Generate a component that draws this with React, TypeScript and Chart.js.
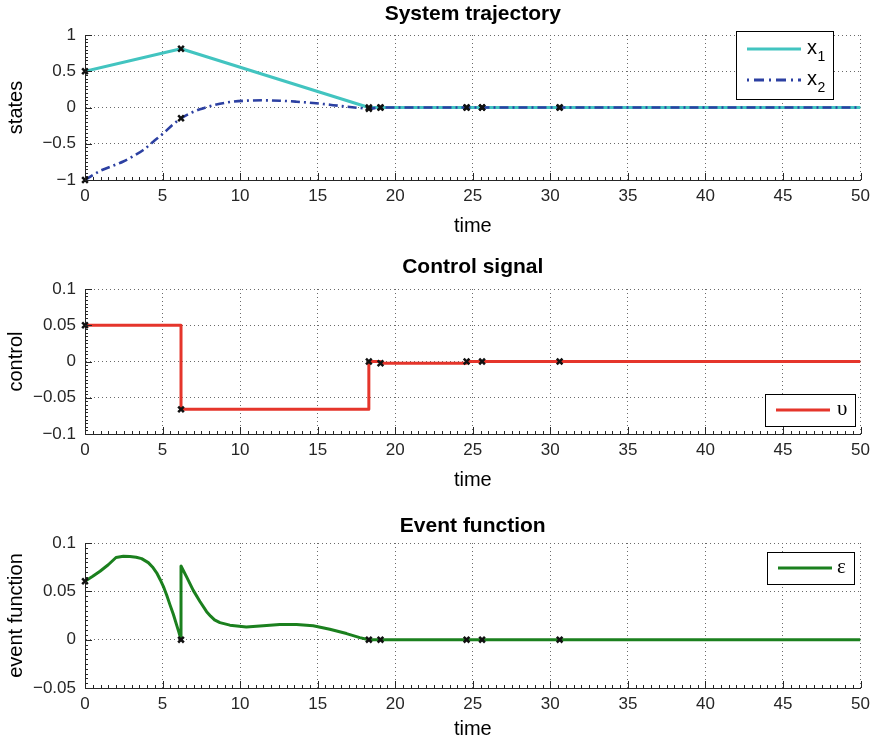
import React, { useEffect, useRef } from 'react';
import { Chart, registerables } from 'chart.js';

Chart.register(...registerables);

// ---------- data ----------
const TIME_TICKS = [0, 5, 10, 15, 20, 25, 30, 35, 40, 45, 50];
const STATE_TICKS = [-1, -0.5, 0, 0.5, 1];
const CONTROL_TICKS = [-0.1, -0.05, 0, 0.05, 0.1];
const EVENT_TICKS = [-0.05, 0, 0.05, 0.1];

const EVENT_TIMES = [0, 6.19, 18.3, 19.05, 24.6, 25.6, 30.6];
const X1_AT_EVENTS = [0.5, 0.81, 0, 0, 0, 0, 0];
const X2_AT_EVENTS = [-1, -0.149, -0.017, 0, 0, 0, 0];
const U_AT_EVENTS = [0.05, -0.066, 0, -0.0024, 0, 0, 0];
const EPS_AT_EVENTS = [0.0604, 0, 0, 0, 0, 0, 0];

const X1_T = [0, 6.19, 18.3, 50];
const X1_V = [0.5, 0.81, 0, 0];

const X2_T = [0, 0.97, 1.83, 2.47, 3.11, 3.76, 4.4, 5.05, 5.69, 6.19, 6.77, 7.41, 8.27, 9.34, 10.4, 11.49, 12.56, 13.64, 14.71, 15.78, 16.86, 17.72, 18.3, 19.05, 50];
const X2_V = [-1, -0.875, -0.8, -0.745, -0.672, -0.586, -0.471, -0.356, -0.232, -0.149, -0.08, -0.025, 0.03, 0.076, 0.094, 0.099, 0.094, 0.08, 0.062, 0.039, 0.011, -0.007, -0.017, 0, 0];

const U_T = [0, 6.19, 18.3, 19.05, 24.6, 50];
const U_V = [0.05, -0.066, 0, -0.0024, 0, 0];

const EPS_T = [0, 0.5, 0.97, 1.5, 2.0, 2.47, 2.9, 3.3, 3.65, 4.08, 4.35, 4.62, 4.85, 5.05, 5.27, 5.48, 5.7, 5.91, 6.05, 6.19, 6.19, 6.55, 6.98, 7.41, 7.84, 8.1, 8.35, 8.7, 9.34, 10.4, 11.49, 12.56, 13.64, 14.71, 15.78, 16.86, 17.72, 18.3, 50];
const EPS_V = [0.0604, 0.0655, 0.0708, 0.0775, 0.085, 0.0862, 0.086, 0.0853, 0.0838, 0.0797, 0.0752, 0.0692, 0.062, 0.0552, 0.046, 0.036, 0.026, 0.015, 0.0078, 0, 0.0762, 0.065, 0.051, 0.0395, 0.029, 0.0243, 0.0205, 0.0176, 0.015, 0.0132, 0.0143, 0.0157, 0.0157, 0.0143, 0.0108, 0.0063, 0.0021, 0, 0];

// ---------- styling ----------
const FONT = "'Liberation Sans', Arial, Helvetica, sans-serif";
const SERIF = "'Liberation Serif', 'DejaVu Serif', serif";
const C_X1 = '#42C4C0';
const C_X2 = '#2C40A2';
const C_U = '#E5352B';
const C_EPS = '#1B801E';
const AXIS = '#262626';

const pts = (t: number[], v: number[]) => t.map((x, i) => ({ x, y: v[i] }));
const fmt = (v: number) => (v < 0 ? '\u2212' + String(Math.abs(v)) : String(v));

const markerSet = (values: number[]) => ({
  label: 'events',
  data: pts(EVENT_TIMES, values),
  showLine: false,
  clip: false,
  pointStyle: 'crossRot',
  pointRadius: 4,
  pointBorderWidth: 2.5,
  pointBorderColor: '#111',
  pointBackgroundColor: '#111',
  order: 0,
});

const ticksPlugin = (yTicks: number[]) => ({
  id: 'inwardTicks',
  afterDatasetsDraw(chart: any) {
    const { ctx, chartArea } = chart;
    const xs = chart.scales.x;
    const ys = chart.scales.y;
    const { left, bottom } = chartArea;
    ctx.save();
    ctx.strokeStyle = AXIS;
    ctx.lineWidth = 1;
    ctx.beginPath();
    const xStep = TIME_TICKS[1] - TIME_TICKS[0];
    for (let i = 0; i < TIME_TICKS.length; i++) {
      const px = Math.round(xs.getPixelForValue(TIME_TICKS[i])) + 0.5;
      ctx.moveTo(px, bottom);
      ctx.lineTo(px, bottom - 7);
      if (i < TIME_TICKS.length - 1) {
        for (let k = 1; k < 10; k++) {
          const mx = Math.round(xs.getPixelForValue(TIME_TICKS[i] + (xStep * k) / 10)) + 0.5;
          ctx.moveTo(mx, bottom);
          ctx.lineTo(mx, bottom - 3);
        }
      }
    }
    const yStep = yTicks[1] - yTicks[0];
    for (let i = 0; i < yTicks.length; i++) {
      const py = Math.round(ys.getPixelForValue(yTicks[i])) + 0.5;
      ctx.moveTo(left, py);
      ctx.lineTo(left + 7, py);
      if (i < yTicks.length - 1) {
        for (let k = 1; k < 10; k++) {
          const my = Math.round(ys.getPixelForValue(yTicks[i] + (yStep * k) / 10)) + 0.5;
          ctx.moveTo(left, my);
          ctx.lineTo(left + 3, my);
        }
      }
    }
    ctx.stroke();
    ctx.restore();
  },
});

type LegendEntry = { text: string; sub?: string; serif?: boolean; color: string; dash: number[]; y: number };
type LegendCfg = { x: number; y: number; w: number; h: number; lx0: number; lx1: number; tx: number; entries: LegendEntry[] };

const legendPlugin = (cfg: LegendCfg) => ({
  id: 'boxLegend',
  afterDraw(chart: any) {
    const ctx = chart.ctx;
    ctx.save();
    ctx.fillStyle = '#fff';
    ctx.fillRect(cfg.x, cfg.y, cfg.w, cfg.h);
    ctx.strokeStyle = '#000';
    ctx.lineWidth = 1;
    ctx.setLineDash([]);
    ctx.strokeRect(cfg.x + 0.5, cfg.y + 0.5, cfg.w, cfg.h);
    for (const e of cfg.entries) {
      ctx.strokeStyle = e.color;
      ctx.lineWidth = 3;
      ctx.setLineDash(e.dash);
      ctx.beginPath();
      ctx.moveTo(cfg.lx0, e.y);
      ctx.lineTo(cfg.lx1, e.y);
      ctx.stroke();
      ctx.setLineDash([]);
      ctx.fillStyle = '#000';
      ctx.textBaseline = 'middle';
      ctx.textAlign = 'left';
      ctx.font = e.serif ? `21px ${SERIF}` : `20px ${FONT}`;
      ctx.fillText(e.text, cfg.tx, e.y - 1);
      if (e.sub) {
        const w = ctx.measureText(e.text).width;
        ctx.font = `14px ${FONT}`;
        ctx.fillText(e.sub, cfg.tx + w + 0.5, e.y + 8);
      }
    }
    ctx.restore();
  },
});

type Panel = {
  title: string;
  yLabel: string;
  yTicks: number[];
  datasets: any[];
  legend: LegendCfg;
  titlePad: { top: number; bottom: number };
  xTitlePad: number;
};

const PANELS: Panel[] = [
  {
    title: 'System trajectory',
    yLabel: 'states',
    yTicks: STATE_TICKS,
    datasets: [
      markerSet(X1_AT_EVENTS),
      { ...markerSet(X2_AT_EVENTS), label: 'events2' },
      {
        label: 'x2',
        data: pts(X2_T, X2_V),
        borderColor: C_X2,
        borderWidth: 2.6,
        borderDash: [9, 4, 2, 4],
        borderJoinStyle: 'round',
        pointRadius: 0,
        cubicInterpolationMode: 'monotone',
        order: 1,
      },
      {
        label: 'x1',
        data: pts(X1_T, X1_V),
        borderColor: C_X1,
        borderWidth: 3,
        borderJoinStyle: 'round',
        pointRadius: 0,
        tension: 0,
        order: 2,
      },
    ],
    legend: {
      x: 736, y: 31, w: 97, h: 68, lx0: 747, lx1: 801, tx: 807,
      entries: [
        { text: 'x', sub: '1', color: C_X1, dash: [], y: 49 },
        { text: 'x', sub: '2', color: C_X2, dash: [2, 5, 10, 5], y: 80 },
      ],
    },
    titlePad: { top: 2, bottom: 7.8 },
    xTitlePad: 1.5,
  },
  {
    title: 'Control signal',
    yLabel: 'control',
    yTicks: CONTROL_TICKS,
    datasets: [
      markerSet(U_AT_EVENTS),
      {
        label: '\u03C5',
        data: pts(U_T, U_V),
        borderColor: C_U,
        borderWidth: 3,
        borderJoinStyle: 'round',
        pointRadius: 0,
        stepped: 'before',
        order: 1,
      },
    ],
    legend: {
      x: 765, y: 140, w: 90, h: 32, lx0: 776, lx1: 830, tx: 837,
      entries: [{ text: '\u03C5', serif: true, color: C_U, dash: [], y: 156 }],
    },
    titlePad: { top: 1, bottom: 8.8 },
    xTitlePad: 1.2,
  },
  {
    title: 'Event function',
    yLabel: 'event function',
    yTicks: EVENT_TICKS,
    datasets: [
      markerSet(EPS_AT_EVENTS),
      {
        label: '\u03B5',
        data: pts(EPS_T, EPS_V),
        borderColor: C_EPS,
        borderWidth: 3,
        borderJoinStyle: 'round',
        pointRadius: 0,
        tension: 0,
        order: 1,
      },
    ],
    legend: {
      x: 767, y: 44, w: 87, h: 32, lx0: 778, lx1: 832, tx: 837,
      entries: [{ text: '\u03B5', serif: true, color: C_EPS, dash: [], y: 60 }],
    },
    titlePad: { top: 5.4, bottom: 4.4 },
    xTitlePad: 7,
  },
];

const PANEL_TOPS = [0, 254, 508];
const W = 876;
const H = 240;

function PanelChart({ panel, top }: { panel: Panel; top: number }) {
  const ref = useRef<HTMLCanvasElement | null>(null);
  useEffect(() => {
    if (!ref.current) return;
    const yT = panel.yTicks;
    const chart = new Chart(ref.current, {
      type: 'line',
      data: { datasets: panel.datasets },
      options: {
        responsive: false,
        animation: false,
        events: [],
        layout: { padding: { left: 0, right: 15, top: 0, bottom: 0 } },
        plugins: {
          legend: { display: false },
          tooltip: { enabled: false },
          title: {
            display: true,
            fullSize: false,
            text: panel.title,
            color: '#000',
            font: { family: FONT, size: 21, weight: 'bold' },
            padding: panel.titlePad,
          },
        },
        scales: {
          x: {
            type: 'linear',
            min: 0,
            max: 50,
            afterBuildTicks: (s: any) => {
              s.ticks = TIME_TICKS.map((v) => ({ value: v }));
            },
            afterFit: (s: any) => {
              s.height = 60;
            },
            ticks: {
              color: AXIS,
              font: { family: FONT, size: 17 },
              padding: 6,
              maxRotation: 0,
              autoSkip: false,
              callback: (v: any) => fmt(Number(v)),
            },
            grid: { color: '#6a6a6a', lineWidth: 1, drawTicks: false, borderDash: [1, 3] },
            border: { display: true, color: AXIS, width: 1, dash: [1, 3] },
            title: {
              display: true,
              text: 'time',
              color: '#000',
              font: { family: FONT, size: 20 },
              padding: { top: 0, bottom: panel.xTitlePad },
            },
          },
          y: {
            type: 'linear',
            min: yT[0],
            max: yT[yT.length - 1],
            afterBuildTicks: (s: any) => {
              s.ticks = yT.map((v) => ({ value: v }));
            },
            afterFit: (s: any) => {
              s.width = 85;
            },
            ticks: {
              color: AXIS,
              font: { family: FONT, size: 17 },
              padding: 9,
              autoSkip: false,
              callback: (v: any) => fmt(Number(v)),
            },
            grid: { color: '#6a6a6a', lineWidth: 1, drawTicks: false, borderDash: [1, 3] },
            border: { display: true, color: AXIS, width: 1, dash: [1, 3] },
            title: {
              display: true,
              text: panel.yLabel,
              color: '#000',
              font: { family: FONT, size: 20 },
              padding: { top: 4, bottom: 0 },
            },
          },
        },
      } as any,
      plugins: [ticksPlugin(yT), legendPlugin(panel.legend)],
    });
    return () => chart.destroy();
  }, [panel]);
  return (
    <canvas
      ref={ref}
      width={W}
      height={H}
      style={{ position: 'absolute', left: 0, top, width: W, height: H, display: 'block' }}
    />
  );
}

export default function App() {
  return (
    <div style={{ position: 'absolute', left: 0, top: 0, width: W, height: 748, background: '#fff', overflow: 'hidden' }}>
      {PANELS.map((p, i) => (
        <PanelChart key={i} panel={p} top={PANEL_TOPS[i]} />
      ))}
    </div>
  );
}
